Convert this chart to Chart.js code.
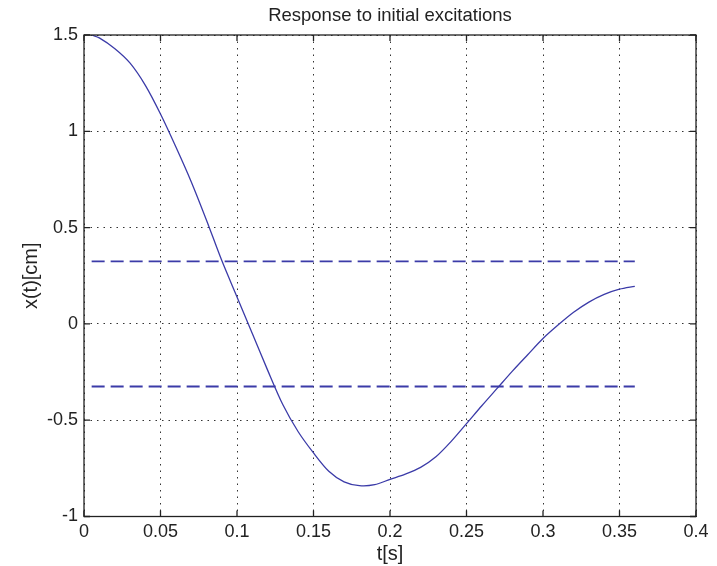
<!DOCTYPE html>
<html lang="en">
<head>
    <meta charset="UTF-8">
    <title>Response to initial excitations</title>
    <script src="https://cdn.jsdelivr.net/npm/chart.js"></script>
    <style>
        html, body { margin: 0; padding: 0; background: #fff; }
        #wrap { width: 717px; height: 566px; }
    </style>
</head>
<body>
    <div id="wrap"><canvas id="respChart"></canvas></div>
    <script>
        // time samples [s] and response x(t) [cm]
        var tValues = [0.005, 0.01, 0.02, 0.03, 0.04, 0.05, 0.06, 0.07, 0.08, 0.09,
                       0.10, 0.11, 0.12, 0.13, 0.14, 0.15, 0.16, 0.17, 0.18, 0.19,
                       0.20, 0.21, 0.22, 0.23, 0.24, 0.25, 0.26, 0.27, 0.28, 0.29,
                       0.30, 0.31, 0.32, 0.33, 0.34, 0.35, 0.36];
        var xValues = [1.5, 1.485, 1.43, 1.355, 1.24, 1.09, 0.92, 0.74, 0.54, 0.33,
                       0.14, -0.05, -0.24, -0.42, -0.56, -0.67, -0.765, -0.82, -0.84, -0.835,
                       -0.807, -0.78, -0.745, -0.69, -0.61, -0.518, -0.425, -0.335, -0.245, -0.16,
                       -0.076, -0.005, 0.06, 0.113, 0.153, 0.18, 0.195];

        // the two dashed bound lines
        var boundT = [0.005, 0.36];
        var upperBound = [0.325, 0.325];
        var lowerBound = [-0.325, -0.325];

        var xTicks = [0, 0.05, 0.1, 0.15, 0.2, 0.25, 0.3, 0.35, 0.4];
        var yTicks = [-1, -0.5, 0, 0.5, 1, 1.5];

        function pts(xs, ys) {
            return xs.map(function (v, i) { return { x: v, y: ys[i] }; });
        }

        var lineBlue = '#3b3ba8';
        var font = 'Liberation Sans, Arial, sans-serif';

        // MATLAB-ish box with inward tick marks
        var boxPlugin = {
            id: 'box',
            afterDraw: function (chart) {
                var ctx = chart.ctx, a = chart.chartArea;
                var xs = chart.scales.x, ys = chart.scales.y;
                ctx.save();
                ctx.strokeStyle = '#222';
                ctx.lineWidth = 1.3;
                ctx.setLineDash([]);
                ctx.strokeRect(a.left, a.top, a.right - a.left, a.bottom - a.top);
                ctx.beginPath();
                xTicks.forEach(function (v) {
                    var px = xs.getPixelForValue(v);
                    ctx.moveTo(px, a.bottom); ctx.lineTo(px, a.bottom - 6);
                    ctx.moveTo(px, a.top); ctx.lineTo(px, a.top + 6);
                });
                yTicks.forEach(function (v) {
                    var py = ys.getPixelForValue(v);
                    ctx.moveTo(a.left, py); ctx.lineTo(a.left + 6, py);
                    ctx.moveTo(a.right, py); ctx.lineTo(a.right - 6, py);
                });
                ctx.stroke();
                ctx.restore();
            }
        };

        var respChart = new Chart(document.getElementById('respChart'), {
            type: 'line',
            data: {
                datasets: [{
                    data: pts(tValues, xValues),
                    borderColor: lineBlue,
                    borderWidth: 1.3,
                    pointRadius: 0,
                    tension: 0.3
                }, {
                    data: pts(boundT, upperBound),
                    borderColor: lineBlue,
                    borderWidth: 1.8,
                    borderDash: [13, 6],
                    pointRadius: 0
                }, {
                    data: pts(boundT, lowerBound),
                    borderColor: lineBlue,
                    borderWidth: 1.8,
                    borderDash: [13, 6],
                    pointRadius: 0
                }]
            },
            options: {
                responsive: true,
                maintainAspectRatio: false,
                animation: false,
                layout: { padding: { left: 0, right: 21, top: 0, bottom: 0 } },
                plugins: {
                    legend: { display: false },
                    tooltip: { enabled: false },
                    title: {
                        display: true,
                        text: 'Response to initial excitations',
                        fullSize: false,
                        color: '#222',
                        font: { family: font, size: 18.5, weight: 'normal' },
                        padding: { top: 5, bottom: 7.8 }
                    }
                },
                scales: {
                    x: {
                        type: 'linear',
                        min: 0,
                        max: 0.4,
                        afterBuildTicks: function (s) { s.ticks = xTicks.map(function (v) { return { value: v }; }); },
                        afterFit: function (s) { s.height = 49.5; },
                        ticks: {
                            color: '#222',
                            padding: 5,
                            maxRotation: 0,
                            font: { family: font, size: 18 },
                            callback: function (v) { return String(+v.toFixed(2)); }
                        },
                        grid: { color: '#333', drawTicks: false },
                        border: { display: false, dash: [1.5, 5] },
                        title: {
                            display: true,
                            text: 't[s]',
                            color: '#222',
                            font: { family: font, size: 20 },
                            padding: 0
                        }
                    },
                    y: {
                        min: -1,
                        max: 1.5,
                        afterBuildTicks: function (s) { s.ticks = yTicks.map(function (v) { return { value: v }; }); },
                        afterFit: function (s) { s.width = 84; },
                        ticks: {
                            color: '#222',
                            padding: 6,
                            font: { family: font, size: 18 },
                            callback: function (v) { return String(+v.toFixed(2)); }
                        },
                        grid: { color: '#333', drawTicks: false },
                        border: { display: false, dash: [1.5, 5] },
                        title: {
                            display: true,
                            text: 'x(t)[cm]',
                            color: '#222',
                            font: { family: font, size: 20 },
                            padding: { top: 19.5, bottom: 0 }
                        }
                    }
                }
            },
            plugins: [boxPlugin]
        });
    </script>
</body>
</html>
